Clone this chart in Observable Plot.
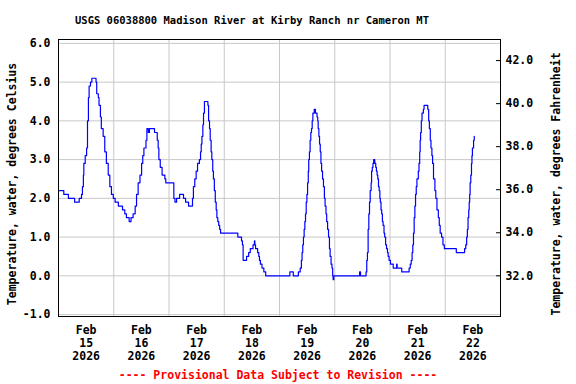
<!DOCTYPE html>
<html>
<head>
<meta charset="utf-8">
<script src="https://cdn.jsdelivr.net/npm/d3@7"></script>
<script src="https://cdn.jsdelivr.net/npm/@observablehq/plot@0.6"></script>
<style>
  html, body { margin: 0; padding: 0; background: #fff; }
  #wrap { position: relative; width: 576px; height: 384px; font-family: "DejaVu Sans Mono", monospace; font-weight: bold; }
  #title { position: absolute; top: 13px; left: 0; width: 504px; text-align: center; font-size: 10.5px; line-height: 14px; color: #000; }
  #chart { position: absolute; top: 30px; left: 0; }
  #caption { position: absolute; top: 368px; left: 0; width: 556px; text-align: center; font-size: 11.5px; line-height: 14px; color: #ff0000; }
</style>
</head>
<body>
<div id="wrap">
  <div id="title"></div>
  <div id="chart"></div>
  <div id="caption"></div>
</div>
<script>
const titleText = "USGS 06038800 Madison River at Kirby Ranch nr Cameron MT";
const captionText = "---- Provisional Data Subject to Revision ----";
const leftLabel = "Temperature, water, degrees Celsius";
const rightLabel = "Temperature, water, degrees Fahrenheit";

// hours since 2026-02-15 00:00
const hours = [
  0, 2.3, 4.3, 7.0, 9.0, 10.0, 10.4, 10.8, 11.0, 11.6, 12.2, 12.6, 13.0, 13.3, 13.9, 14.5,
  16.3, 16.6, 17.3, 17.6, 18.2, 18.6, 19.4, 20.1, 20.8, 21.6, 22.3, 23.0, 23.8, 24.6, 26.0,
  27.8, 28.8, 29.5, 30.7, 31.5, 32.4, 33.3, 33.9, 34.6, 35.4, 36.1, 36.6, 37.1, 38.0, 38.4,
  39.0, 39.5, 41.7, 42.1, 42.9, 43.3, 43.6, 44.2, 45.0, 46.2, 46.6, 50.1, 50.6, 51.3, 52.6,
  54.3, 55.2, 56.5, 58.2, 58.6, 59.2, 59.8, 60.4, 61.2, 61.7, 62.0, 62.3, 62.7, 63.0, 63.4,
  64.9, 65.2, 65.6, 65.9, 66.3, 66.6, 67.0, 67.3, 67.7, 68.1, 68.5, 68.8, 69.2, 69.6, 70.0,
  70.4, 77.9, 79.5, 79.9, 80.2, 81.7, 82.0, 82.6, 83.3, 84.5, 85.1, 85.3, 85.6, 86.5, 87.0,
  87.3, 87.7, 88.4, 89.2, 90.0, 100.5, 102.0, 104.2, 105.0, 105.5, 105.8, 106.1, 106.4, 106.7,
  107.0, 107.3, 107.6, 107.9, 108.2, 108.5, 108.7, 109.0, 109.3, 109.6, 109.9, 110.2, 110.5,
  111.1, 111.6, 112.3, 112.6, 112.8, 113.1, 113.4, 113.7, 114.0, 114.3, 114.7, 115.1, 115.5,
  115.8, 116.2, 116.5, 116.9, 117.3, 117.7, 118.0, 118.4, 118.8, 119.1, 119.3, 119.6, 130.8,
  131.2, 133.6, 133.9, 134.2, 134.5, 134.8, 135.1, 135.4, 135.8, 136.0, 136.3, 136.6, 136.9,
  137.4, 137.8, 138.1, 138.4, 138.7, 139.0, 139.3, 139.6, 139.8, 140.1, 140.4, 140.7, 141.0,
  141.4, 141.7, 142.1, 142.5, 142.9, 143.2, 143.6, 144.2, 145.4, 146.9, 147.1, 149.1, 152.3,
  152.8, 153.2, 153.6, 153.9, 154.2, 154.5, 154.8, 155.1, 155.4, 155.7, 156.3, 156.6, 156.9,
  157.1, 157.3, 157.6, 157.9, 158.5, 158.8, 160.4, 160.8, 161.1, 161.5, 161.8, 162.2, 162.5,
  162.9, 163.5, 163.9, 164.4, 165.0, 165.4, 165.8, 166.4, 167.0, 167.6, 172.8, 176.4, 176.9,
  177.3, 177.6, 177.9, 178.2, 178.4, 178.6, 178.8, 179.1, 179.4, 179.6, 179.8, 180.3, 180.6
];
const tempC = [
  2.2, 2.1, 2.0, 1.9, 2.0, 2.1, 2.3, 2.6, 2.9, 3.1, 3.3, 4.0, 4.6, 4.9, 5.0, 5.1,
  5.0, 4.7, 4.6, 4.4, 4.1, 3.8, 3.6, 3.2, 2.9, 2.6, 2.3, 2.1, 2.0, 1.9, 1.8,
  1.7, 1.6, 1.5, 1.4, 1.5, 1.6, 1.8, 2.1, 2.4, 2.6, 2.9, 3.1, 3.3, 3.5, 3.8,
  3.7, 3.8, 3.7, 3.7, 3.5, 3.3, 3.0, 2.8, 2.6, 2.5, 2.4, 2.0, 1.9, 2.0, 2.1,
  2.0, 1.9, 1.8, 2.0, 2.3, 2.5, 2.7, 2.9, 3.0, 3.2, 3.4, 3.6, 3.9, 4.2, 4.5,
  4.4, 4.0, 3.8, 3.5, 3.2, 3.0, 2.7, 2.5, 2.2, 1.9, 1.7, 1.5, 1.4, 1.3, 1.2,
  1.1, 1.0, 0.9, 0.8, 0.4, 0.5, 0.5, 0.6, 0.7, 0.8, 0.9, 0.8, 0.7, 0.6, 0.5,
  0.4, 0.3, 0.2, 0.1, 0.0, 0.1, 0.0, 0.1, 0.2, 0.4, 0.6, 0.8, 1.0, 1.2,
  1.4, 1.6, 1.9, 2.1, 2.4, 2.7, 3.0, 3.2, 3.5, 3.7, 3.8, 4.0, 4.2,
  4.3, 4.2, 4.1, 4.0, 3.8, 3.6, 3.4, 3.2, 2.9, 2.7, 2.5, 2.3, 2.0,
  1.8, 1.6, 1.4, 1.2, 1.0, 0.7, 0.5, 0.3, 0.2, 0.0, -0.1, 0.0, 0.1,
  0.0, 0.1, 0.4, 0.6, 1.2, 1.6, 1.9, 2.2, 2.4, 2.7, 2.8, 2.9, 3.0,
  2.9, 2.8, 2.7, 2.6, 2.5, 2.3, 2.2, 2.0, 1.9, 1.7, 1.6, 1.4, 1.3,
  1.1, 1.0, 0.8, 0.7, 0.6, 0.5, 0.4, 0.3, 0.2, 0.3, 0.2, 0.1, 0.2,
  0.3, 0.4, 0.6, 0.8, 1.1, 1.5, 1.8, 2.1, 2.3, 2.5, 2.7, 2.9, 3.2,
  3.5, 3.7, 4.0, 4.2, 4.3, 4.4, 4.3, 4.0, 3.8, 3.5, 3.3, 3.1, 2.9,
  2.5, 2.2, 2.0, 1.7, 1.5, 1.3, 1.1, 1.0, 0.8, 0.7, 0.6, 0.7, 0.8,
  1.0, 1.2, 1.5, 1.7, 1.9, 2.1, 2.4, 2.6, 2.9, 3.1, 3.3, 3.5, 3.6
];

const yTicksC = [-1, 0, 1, 2, 3, 4, 5, 6];
const yTicksF = [32, 34, 36, 38, 40, 42];
const tickDays = [15, 16, 17, 18, 19, 20, 21, 22];
const gridDays = [16, 17, 18, 19, 20, 21, 22];

document.getElementById("title").textContent = titleText;
document.getElementById("caption").textContent = captionText;

const base = Date.UTC(2026, 1, 15);
const data = hours.map((h, i) => ({date: new Date(base + h * 3600e3), temp: tempC[i]}));
const dayNoon = tickDays.map(d => new Date(Date.UTC(2026, 1, d, 12)));
const dayStart = gridDays.map(d => new Date(Date.UTC(2026, 1, d)));
const fAsC = yTicksF.map(f => (f - 32) * 5 / 9);
const fmtDate = d3.utcFormat("%b\n%-d\n%Y");

const chart = Plot.plot({
  width: 576,
  height: 336,
  marginLeft: 58,
  marginRight: 76,
  marginTop: 9,
  marginBottom: 50,
  style: {fontFamily: "DejaVu Sans Mono", fontWeight: "bold", fontSize: "11.5px", color: "#000", background: "#fff"},
  x: {type: "utc", domain: [new Date(Date.UTC(2026, 1, 15)), new Date(Date.UTC(2026, 1, 23))]},
  y: {domain: [-1.05, 6.1]},
  marks: [
    Plot.gridY(yTicksC, {stroke: "#c8c8c8", strokeOpacity: 1}),
    Plot.gridX(dayStart, {stroke: "#c8c8c8", strokeOpacity: 1}),
    Plot.line(data, {x: "date", y: "temp", stroke: "#0000ff", strokeWidth: 1.2, curve: "step-after"}),
    Plot.frame({stroke: "#000"}),
    Plot.axisY(yTicksC, {anchor: "left", tickSize: 0, tickPadding: 8, tickFormat: d => d.toFixed(1), label: null}),
    Plot.axisY(fAsC, {anchor: "right", tickSize: 0, tickPadding: 5, tickFormat: d => (d * 9 / 5 + 32).toFixed(1), label: null}),
    Plot.axisY(fAsC, {anchor: "right", tickSize: 5, insetRight: 5, tickFormat: () => "", label: null}),
    Plot.axisX(dayNoon, {anchor: "bottom", tickSize: 0, tickPadding: 9, tickFormat: fmtDate, lineHeight: 1.1, label: null}),
    Plot.text([leftLabel], {frameAnchor: "left", text: d => d, rotate: -90, dx: -46, dy: 6, textAnchor: "middle"}),
    Plot.text([rightLabel], {frameAnchor: "right", text: d => d, rotate: -90, dx: 56, dy: 6, textAnchor: "middle"})
  ]
});
document.getElementById("chart").appendChild(chart);
</script>
</body>
</html>
